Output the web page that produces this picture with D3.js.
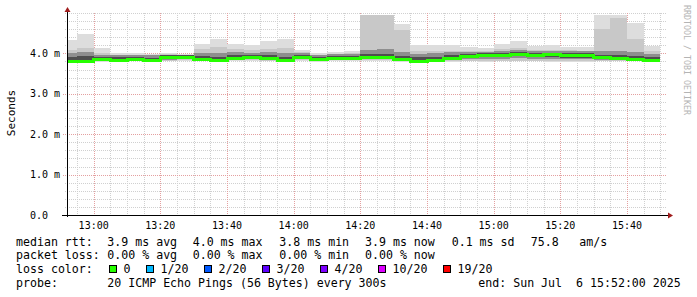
<!DOCTYPE html>
<html>
<head>
<meta charset="utf-8">
<script src="https://cdn.jsdelivr.net/npm/d3@7"></script>
<style>
  body { margin: 0; background: #fff; }
  svg { display: block; font-family: "DejaVu Sans Mono", monospace; }
  text { white-space: pre; }
</style>
</head>
<body>
<div class="graph"></div>
<script>
// smoke values per 5 min step, 12:50 .. 15:45 (ms)
const minV   = [3.77,3.77,3.79,3.79,3.80,3.79,3.80,3.81,3.80,3.78,3.81,3.81,3.80,3.78,3.82,3.79,3.82,3.82,3.82,3.82,3.78,3.77,3.78,3.79,3.80,3.79,3.80,3.80,3.80,3.79,3.79,3.79,3.80,3.80,3.80,3.79];
const lo2    = [3.78,3.78,3.80,3.80,3.81,3.80,3.82,3.83,3.81,3.79,3.83,3.83,3.82,3.79,3.83,3.80,3.83,3.83,3.84,3.84,3.80,3.78,3.79,3.81,3.82,3.81,3.82,3.82,3.82,3.81,3.81,3.81,3.81,3.81,3.81,3.80];
const p25    = [3.80,3.80,3.82,3.81,3.82,3.81,3.84,3.85,3.83,3.81,3.85,3.85,3.84,3.81,3.85,3.82,3.85,3.85,3.86,3.86,3.82,3.80,3.80,3.83,3.85,3.86,3.87,3.88,3.87,3.85,3.85,3.85,3.83,3.83,3.82,3.81];
const p40    = [3.81,3.81,3.83,3.82,3.83,3.82,3.86,3.87,3.85,3.82,3.87,3.87,3.86,3.82,3.87,3.83,3.87,3.87,3.88,3.88,3.84,3.81,3.81,3.85,3.89,3.91,3.92,3.93,3.91,3.90,3.89,3.89,3.86,3.85,3.84,3.82];
const median = [3.81,3.81,3.84,3.83,3.84,3.82,3.90,3.91,3.86,3.83,3.88,3.89,3.87,3.83,3.89,3.85,3.88,3.88,3.90,3.90,3.85,3.81,3.82,3.87,3.92,3.96,3.96,3.98,3.96,3.97,3.96,3.96,3.90,3.88,3.85,3.83];
const p60    = [3.92,3.93,3.91,3.90,3.91,3.89,3.95,3.95,3.94,3.92,3.96,3.96,3.95,3.92,3.95,3.91,3.94,3.94,3.98,3.98,3.94,3.90,3.92,3.96,3.98,4.00,4.02,4.03,4.01,4.01,4.00,4.00,3.97,3.96,3.94,3.90];
const p75    = [4.01,4.03,3.97,3.96,3.96,3.95,3.97,3.97,4.02,4.01,4.03,4.02,4.03,4.01,4.00,3.96,3.98,3.99,4.08,4.10,4.03,3.99,4.00,4.03,4.04,4.04,4.07,4.08,4.06,4.06,4.05,4.05,4.06,4.06,4.03,3.99];
const hi2    = [4.09,4.14,4.02,3.97,3.97,3.96,3.98,3.97,4.10,4.15,4.10,4.08,4.12,4.14,4.03,3.97,3.99,4.00,4.94,4.94,4.58,4.05,4.06,4.05,4.06,4.06,4.12,4.14,4.08,4.08,4.08,4.07,4.60,4.88,4.35,4.07];
const maxV   = [4.32,4.47,4.13,4.01,4.00,3.98,4.00,3.98,4.24,4.35,4.24,4.21,4.30,4.35,4.09,4.00,4.03,4.05,4.95,4.95,4.72,4.20,4.20,4.20,4.16,4.13,4.24,4.30,4.19,4.20,4.16,4.16,4.95,4.95,4.75,4.18];

const yTicks = [0, 1, 2, 3, 4];
const rttStats = ["3.9 ms avg", "4.0 ms max", "3.8 ms min", "3.9 ms now", "0.1 ms sd", "75.8", "am/s"];
const lossStats = ["0.00 % avg", "0.00 % max", "0.00 % min", "0.00 % now"];
const lossLabels = ["0", "1/20", "2/20", "3/20", "4/20", "10/20", "19/20"];
const lossColors = ["#26ff00", "#00b8ff", "#0059ff", "#5e00ff", "#7e00ff", "#dd00ff", "#ff0000"];

const width = 697;
const height = 297;
const plot = { left: 67, right: 667, top: 13, bottom: 215 };

const canvas = d3.select(".graph")
  .append("svg")
  .attr("width", width)
  .attr("height", height);

const start = new Date(2025, 6, 6, 12, 50);
const x = d3.scaleTime()
  .domain([new Date(2025, 6, 6, 12, 52), new Date(2025, 6, 6, 15, 52)])
  .range([plot.left, plot.right]);
const y = d3.scaleLinear()
  .domain([0, 5])
  .range([plot.bottom, plot.top]);

// grid
const grid = canvas.append("g").attr("shape-rendering", "crispEdges");
const minorY = d3.range(1, 26).filter(i => i % 5 !== 0 || i === 25).map(i => i * 0.2);
grid.selectAll(".hmin").data(minorY).enter().append("line")
  .attr("x1", plot.left - 2).attr("x2", plot.right)
  .attr("y1", d => Math.round(y(d)) + 0.5).attr("y2", d => Math.round(y(d)) + 0.5)
  .attr("stroke", "#d0d0d0").attr("stroke-dasharray", "1,1");
const minorX = x.ticks(d3.timeMinute.every(5)).filter(d => d.getMinutes() % 20 !== 0);
grid.selectAll(".vmin").data(minorX).enter().append("line")
  .attr("x1", d => Math.round(x(d)) + 0.5).attr("x2", d => Math.round(x(d)) + 0.5)
  .attr("y1", plot.top).attr("y2", plot.bottom)
  .attr("stroke", "#d0d0d0").attr("stroke-dasharray", "1,1");
grid.selectAll(".hmaj").data(yTicks.slice(1)).enter().append("line")
  .attr("x1", plot.left - 4).attr("x2", plot.right)
  .attr("y1", d => Math.round(y(d)) + 0.5).attr("y2", d => Math.round(y(d)) + 0.5)
  .attr("stroke", "#e4a0a0").attr("stroke-dasharray", "1,1");
const majorX = x.ticks(d3.timeMinute.every(20));
grid.selectAll(".vmaj").data(majorX).enter().append("line")
  .attr("x1", d => Math.round(x(d)) + 0.5).attr("x2", d => Math.round(x(d)) + 0.5)
  .attr("y1", plot.top).attr("y2", plot.bottom + 2)
  .attr("stroke", "#e4a0a0").attr("stroke-dasharray", "1,1");

// smoke
canvas.append("clipPath").attr("id", "clip")
  .append("rect")
  .attr("x", plot.left).attr("y", plot.top)
  .attr("width", plot.right - plot.left).attr("height", plot.bottom - plot.top);

const pts = median.map((d, i) => ({ t: d3.timeMinute.offset(start, 5 * i), i }));
pts.push({ t: d3.timeMinute.offset(start, 5 * median.length), i: median.length - 1 });

const data = canvas.append("g").attr("clip-path", "url(#clip)").attr("shape-rendering", "crispEdges");
const bands = [[minV, maxV, "#dddddd"], [lo2, hi2, "#c8c8c8"], [p25, p75, "#8e8e8e"], [p40, p60, "#4e4e4e"]];
bands.forEach(([lo, hi, col]) => {
  data.append("path")
    .datum(pts)
    .attr("fill", col)
    .attr("d", d3.area().curve(d3.curveStepAfter)
      .x(d => x(d.t))
      .y0(d => y(lo[d.i]))
      .y1(d => y(hi[d.i])));
});
data.append("path")
  .datum(pts)
  .attr("fill", "none")
  .attr("stroke", lossColors[0])
  .attr("stroke-width", 3)
  .attr("d", d3.line().curve(d3.curveStepAfter).x(d => x(d.t)).y(d => y(median[d.i])));

// axes
const axisCol = "#000";
canvas.append("line")
  .attr("x1", plot.left - 5).attr("x2", plot.right + 2)
  .attr("y1", plot.bottom + 0.5).attr("y2", plot.bottom + 0.5)
  .attr("stroke", axisCol);
canvas.append("line")
  .attr("x1", plot.left + 0.5).attr("x2", plot.left + 0.5)
  .attr("y1", plot.bottom + 2).attr("y2", 10)
  .attr("stroke", axisCol);
canvas.append("path")
  .attr("d", `M${plot.right + 1},${plot.bottom - 2.5}L${plot.right + 6},${plot.bottom + 0.5}L${plot.right + 1},${plot.bottom + 3.5}Z`)
  .attr("fill", "#a01c1c");
canvas.append("path")
  .attr("d", `M${plot.left - 2.5},12L${plot.left + 0.5},7L${plot.left + 3.5},12Z`)
  .attr("fill", "#a01c1c");

canvas.selectAll(".ylab").data(yTicks).enter().append("text")
  .attr("x", 30).attr("y", d => y(d) + 3.5)
  .attr("font-size", 10)
  .text(d => d === 0 ? "0.0" : d.toFixed(1) + " m");

canvas.selectAll(".xlab").data(majorX).enter().append("text")
  .attr("x", d => x(d)).attr("y", 229)
  .attr("text-anchor", "middle")
  .attr("font-size", 10)
  .text(d3.timeFormat("%H:%M"));

canvas.append("text")
  .attr("transform", "translate(15,113) rotate(-90)")
  .attr("text-anchor", "middle")
  .attr("font-size", 11)
  .text("Seconds");

canvas.append("text")
  .attr("transform", "translate(684,5) rotate(90)")
  .attr("font-size", 8.3)
  .attr("fill", "#b4b4b4")
  .text("RRDTOOL / TOBI OETIKER");

// legend
const legend = canvas.append("g").attr("font-size", 11.6);
const colX = [107.3, 192.7, 279.3, 365, 451.7, 530.7, 579.3];
legend.append("text").attr("x", 16).attr("y", 245.5).text("median rtt:");
rttStats.forEach((s, i) => legend.append("text").attr("x", colX[i]).attr("y", 245.5).text(s));
legend.append("text").attr("x", 16).attr("y", 259).text("packet loss:");
lossStats.forEach((s, i) => legend.append("text").attr("x", colX[i]).attr("y", 259).text(s));
legend.append("text").attr("x", 16).attr("y", 273).text("loss color:");
let bx = 109;
lossLabels.forEach((s, i) => {
  legend.append("rect")
    .attr("x", bx + 0.5).attr("y", 265.5)
    .attr("width", 7).attr("height", 7)
    .attr("fill", lossColors[i]).attr("stroke", "#000");
  legend.append("text").attr("x", bx + 14.5).attr("y", 273).text(s);
  bx += 14.5 + s.length * 7 + 15.5;
});
legend.append("text").attr("x", 16).attr("y", 286.5).text("probe:");
legend.append("text").attr("x", 107.3).attr("y", 286.5).text("20 ICMP Echo Pings (56 Bytes) every 300s");
legend.append("text").attr("x", 478.3).attr("y", 286.5).text("end: Sun Jul  6 15:52:00 2025");
</script>
</body>
</html>
